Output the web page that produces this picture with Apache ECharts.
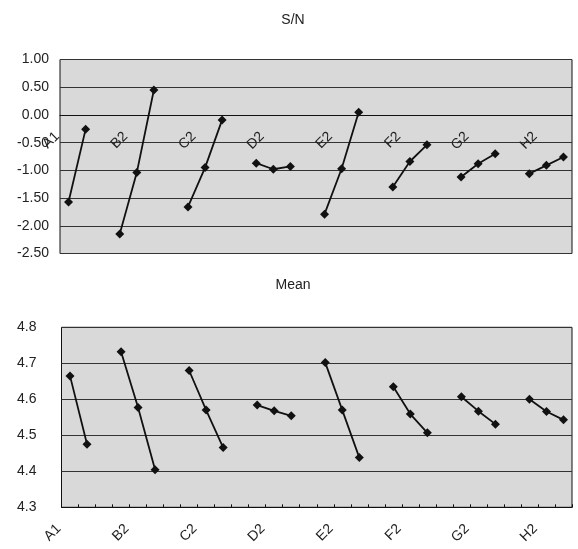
<!DOCTYPE html>
<html>
<head>
<meta charset="utf-8">
<script src="https://cdn.jsdelivr.net/npm/echarts@6/dist/echarts.min.js"></script>
<style>
html,body{margin:0;padding:0;background:#fff;}
#c{width:578px;height:549px;}
</style>
</head>
<body>
<div id="c"></div>
<script>
// Categories: factor levels, with empty gap slots between factors
const categories = ['A1','A2','',
  'B1','B2','B3','',
  'C1','C2','C3','',
  'D1','D2','D3','',
  'E1','E2','E3','',
  'F1','F2','F3','',
  'G1','G2','G3','',
  'H1','H2','H3'];

// S/N ratio per level (null = gap)
const snValues = [-1.57,-0.26,null,
  -2.15,-1.04,0.45,null,
  -1.66,-0.95,-0.09,null,
  -0.87,-0.98,-0.93,null,
  -1.79,-0.97,0.05,null,
  -1.30,-0.84,-0.54,null,
  -1.12,-0.88,-0.70,null,
  -1.06,-0.91,-0.76];

// Mean per level (null = gap)
const meanValues = [4.665,4.475,null,
  4.732,4.577,4.404,null,
  4.680,4.570,4.466,null,
  4.584,4.568,4.554,null,
  4.702,4.570,4.438,null,
  4.635,4.559,4.507,null,
  4.607,4.567,4.531,null,
  4.600,4.566,4.543];

const snAxis = {min: -2.5, max: 1.0, interval: 0.5, decimals: 2};
const meanAxis = {min: 4.3, max: 4.8, interval: 0.1, decimals: 1};

const FONT = "'Liberation Sans', Arial, sans-serif";
const chart = echarts.init(document.getElementById('c'), null, {renderer: 'canvas'});

const TOP_GRID = {left: 60, top: 59.5, height: 194};
const BOT_GRID = {left: 61.5, top: 327.3, height: 180};
// top category axis crosses the value axis at 0
const zeroOffset = -TOP_GRID.height * (0 - snAxis.min) / (snAxis.max - snAxis.min);

function xAxisCfg(gridIndex, showTicks, offset) {
  return {
    type: 'category', gridIndex: gridIndex, data: categories, boundaryGap: true,
    position: 'bottom', offset: offset,
    axisLine: {show: true, onZero: false, lineStyle: {color: '#111', width: 1}},
    axisTick: {show: showTicks, inside: true, length: 3, interval: 0, lineStyle: {color: '#111'}},
    axisLabel: {interval: 3, rotate: 45, margin: 8, padding: [0, 16, 0, 0],
      fontFamily: FONT, fontSize: 14, color: '#222'},
    splitLine: {show: false}
  };
}
function yAxisCfg(gridIndex, ax, margin) {
  return {
    type: 'value', gridIndex: gridIndex, min: ax.min, max: ax.max, interval: ax.interval,
    axisLine: {show: false}, axisTick: {show: false},
    axisLabel: {margin: margin, fontFamily: FONT, fontSize: 14, color: '#222',
      formatter: v => v.toFixed(ax.decimals)},
    splitLine: {show: true, lineStyle: {color: '#333', width: 1}}
  };
}
function seriesCfg(idx, data) {
  return {
    type: 'line', xAxisIndex: idx, yAxisIndex: idx, data: data,
    connectNulls: false, symbol: 'diamond', symbolSize: 9,
    lineStyle: {color: '#111', width: 1.8},
    itemStyle: {color: '#111'}, silent: true, animation: false
  };
}

chart.setOption({
  animation: false,
  backgroundColor: '#fff',
  graphic: [
    {type: 'text', x: 293, y: 20, style: {text: 'S/N', font: '14px ' + FONT, fill: '#222', align: 'center', verticalAlign: 'middle'}},
    {type: 'text', x: 293, y: 285, style: {text: 'Mean', font: '14px ' + FONT, fill: '#222', align: 'center', verticalAlign: 'middle'}}
  ],
  grid: [
    {left: TOP_GRID.left, right: 6, top: TOP_GRID.top, height: TOP_GRID.height, show: true, backgroundColor: '#d9d9d9', borderColor: '#111', borderWidth: 1, containLabel: false},
    {left: BOT_GRID.left, right: 6, top: BOT_GRID.top, height: BOT_GRID.height, show: true, backgroundColor: '#d9d9d9', borderColor: '#111', borderWidth: 1, containLabel: false}
  ],
  xAxis: [xAxisCfg(0, false, zeroOffset), xAxisCfg(1, true, 0)],
  yAxis: [yAxisCfg(0, snAxis, 11), yAxisCfg(1, meanAxis, 25)],
  series: [seriesCfg(0, snValues), seriesCfg(1, meanValues)]
});
</script>
</body>
</html>
